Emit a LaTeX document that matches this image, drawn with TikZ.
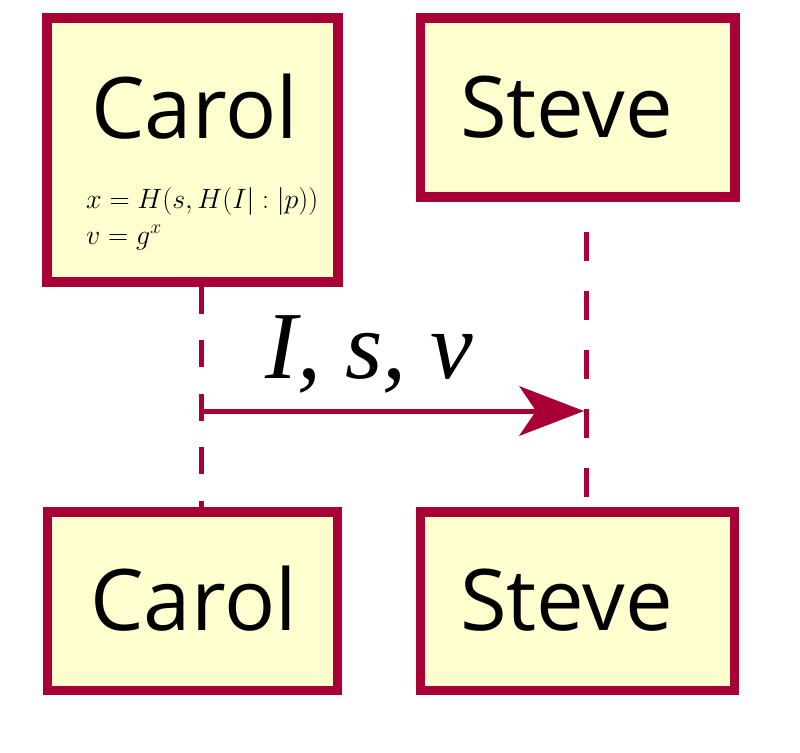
\RequirePackage{fix-cm}
\documentclass[tikz,border=0pt]{standalone}
\usepackage[no-math]{fontspec}
\setmainfont{Open Sans}
\newfontfamily\timesfam{Liberation Serif}
\usetikzlibrary{arrows.meta}
\definecolor{pu}{HTML}{A80036}
\definecolor{pf}{HTML}{FEFECE}
\begin{document}
\begin{tikzpicture}[x=1pt,y=-1pt,
  box/.style={draw=pu,fill=pf,line width=9.5pt,inner sep=0pt},
  pname/.style={font=\fontsize{85}{95}\selectfont, anchor=base, inner sep=0pt},
  formula/.style={font=\fontsize{28}{34}\selectfont, anchor=base west, inner sep=0pt},
  life/.style={draw=pu, line width=5.5pt}]
\useasboundingbox (0,0) rectangle (800,752);
% participant boxes
\node[box, minimum width=291pt, minimum height=264pt] (carolTop) at (192.5,150) {};
\node[box, minimum width=314.5pt, minimum height=179pt] (steveTop) at (577.75,107.5) {};
\node[box, minimum width=290pt, minimum height=178.5pt] (carolBot) at (192.5,601.25) {};
\node[box, minimum width=314pt, minimum height=178.5pt] (steveBot) at (577.5,601.25) {};
% names
\node[pname] (carolTopName) at (194.5,138) {Carol};
\node[pname] (steveTopName) at (566.5,137) {Steve};
\node[pname] (carolBotName) at (193.5,630) {Carol};
\node[pname] (steveBotName) at (566.5,630) {Steve};
% formulas
\node[formula] (f1) at (86,208) {$x = H(s, H(I| : |p))$};
\node[formula] (f2) at (86,244) {$v = g^x$};
% lifelines
\coordinate (cl) at (201.7,0);
\coordinate (sl) at (586.7,0);
\draw[life, dash pattern=on 27pt off 26.5pt] (carolTop.south -| cl) -- (carolBot.north -| cl);
\draw[life, dash pattern=on 29pt off 30pt, dash phase=29pt] (steveTop.south -| sl) -- (steveBot.north -| sl);
% message
\coordinate (a1) at (201.7,411);
\coordinate (a2) at (584,411);
\draw[pu, line width=5pt, -{Stealth[length=65pt,width=50pt,inset=17pt,line width=0pt]}] (a1) -- (a2);
\node[anchor=base west, inner sep=0pt, font=\timesfam\itshape\fontsize{96}{110}\selectfont] (lbl) at (265,378) {I, s, v};
\end{tikzpicture}
\end{document}
